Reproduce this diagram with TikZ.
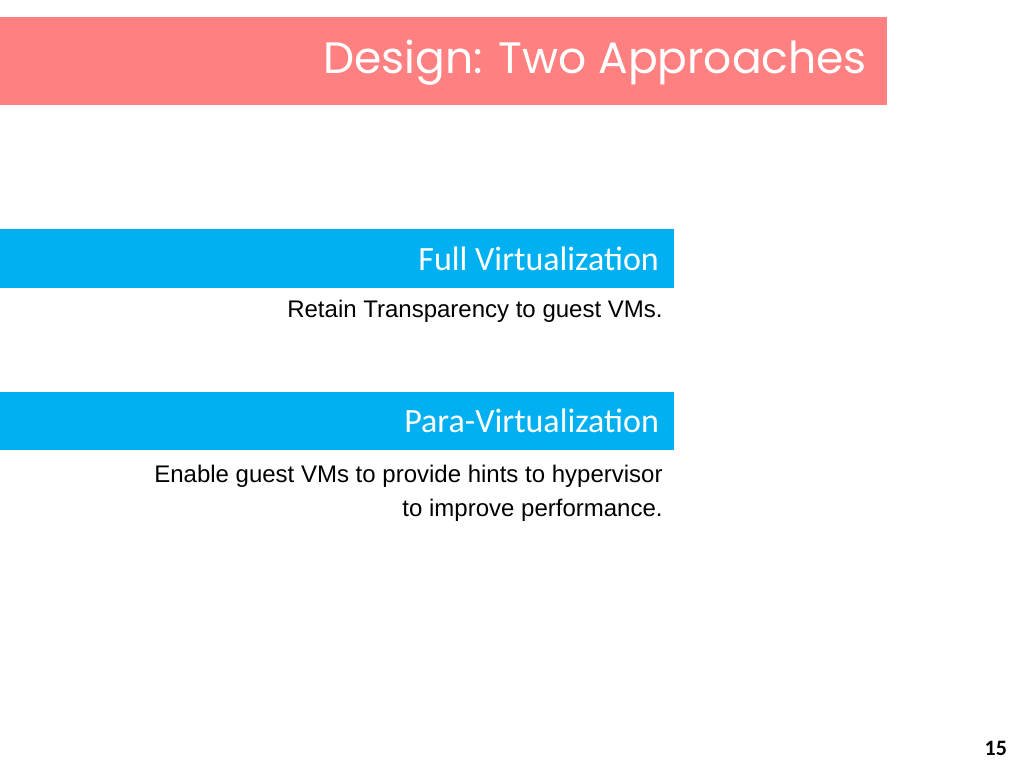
\documentclass[tikz,border=0pt]{standalone}
\usepackage{fontspec}
\setmainfont{Liberation Sans}
\newfontfamily\titlefont{Poppins}
\newfontfamily\barfont{Carlito}
\usetikzlibrary{positioning}
\definecolor{titlered}{HTML}{FF8080}
\definecolor{barblue}{HTML}{00B0F0}
\tikzset{
  barbox/.style={fill=barblue, draw=none},
  bartext/.style={anchor=east, text=white, font=\barfont\fontsize{17}{20}\selectfont},
  subtext/.style={anchor=north east, align=right, font=\fontsize{12}{17}\selectfont, inner sep=0pt}
}

\begin{document}
\begin{tikzpicture}[x=0.5pt, y=-0.5pt]
    \useasboundingbox (0,0) rectangle (1024,768);
    \fill[white] (0,0) rectangle (1024,768);
    % title
    \fill[titlered] (0,17) rectangle (887,105);
    \node[anchor=east, text=white, font=\titlefont\fontsize{22}{26}\selectfont] (title) at (874,63) {Design: Two Approaches};
    % first approach
    \fill[barbox] (0,229) rectangle (674,288);
    \node[bartext] (full) at (666,259) {Full Virtualization};
    \node[subtext] (fulltxt) at (663,300) {Retain Transparency to guest VMs.};
    % second approach
    \fill[barbox] (0,392) rectangle (674,450);
    \node[bartext] (para) at (666,421) {Para-Virtualization};
    \node[subtext] (paratxt) at (663,465) {Enable guest VMs to provide hints to hypervisor\\to improve performance.};
    % page number
    \node[anchor=east, font=\barfont\bfseries\fontsize{11}{13}\selectfont] (page) at (1014,748) {15};
\end{tikzpicture}
\end{document}
